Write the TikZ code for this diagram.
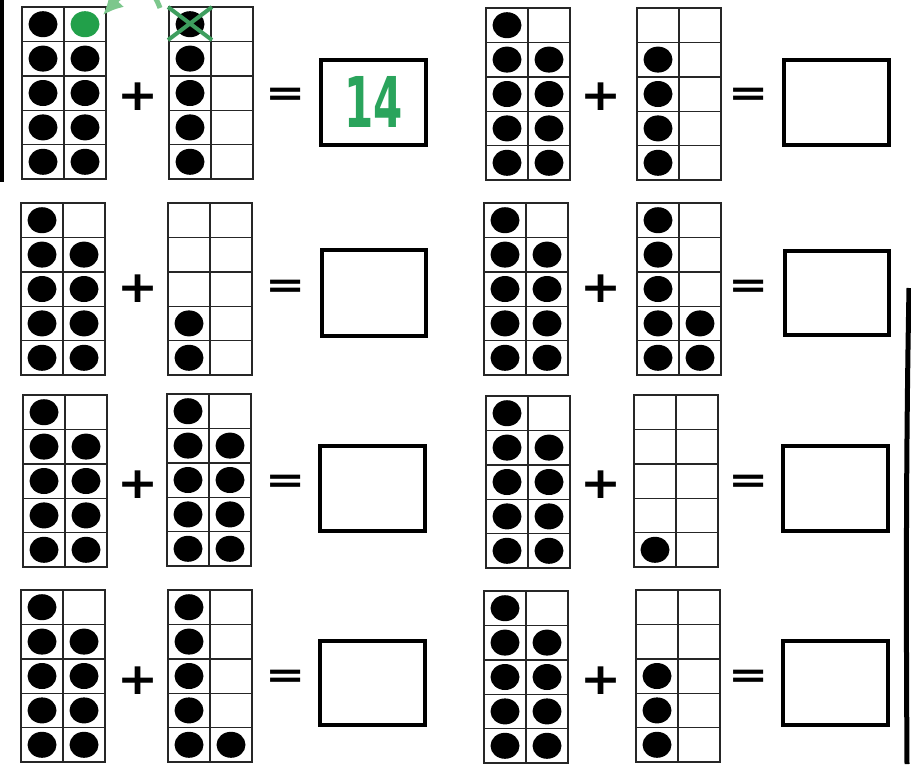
\documentclass[tikz,border=0pt]{standalone}
\usepackage{fontspec}
\setmainfont{DejaVu Sans}
\usetikzlibrary{arrows.meta}
\definecolor{dotgreen}{HTML}{22A04A}
\definecolor{markgreen}{HTML}{3E9E5E}
\definecolor{arrowgreen}{HTML}{7CC78C}
\definecolor{numgreen}{HTML}{2AA45C}
\tikzset{
  cellline/.style={line width=1.4pt, draw=black!85},
  frameline/.style={line width=2.2pt, draw=black!85},
  answerbox/.style={draw=black, line width=3.5pt, fill=white},
  opsym/.style={inner sep=0pt, font=\fontsize{49}{49}\selectfont\bfseries, yscale=0.9},
  eqsym/.style={inner sep=0pt, font=\fontsize{48}{48}\selectfont\bfseries, yscale=0.75},
  blackdot/.style={fill=black},
}
% name, x, y, dot list
\newcommand\tframe[4]{%
  \edef\mydotlist{#4}%
  \begin{scope}[shift={(#2,#3)}]
    \coordinate (#1) at (0,0);
    \foreach \dr/\dc in \mydotlist {
      \fill[blackdot] ({\dc*42-21},{\dr*34.4-17.2}) ellipse [x radius=14.5pt, y radius=13pt];
    }
    \foreach \i in {1,...,4} \draw[cellline] (0,{\i*34.4}) -- (84,{\i*34.4});
    \draw[cellline] (42,0) -- (42,172);
    \draw[frameline] (0,0) rectangle (84,172);
  \end{scope}}
\begin{document}
\begin{tikzpicture}[x=1pt,y=-1pt]
\useasboundingbox (0,0) rectangle (911,764);
\fill[white] (0,0) rectangle (911,764);
\def\nine{1/1,2/1,2/2,3/1,3/2,4/1,4/2,5/1,5/2}
% edges of the sheet
\draw[line width=4pt] (1.5,0) -- (1.5,182);
\draw[line width=5pt] (909,288) .. controls (906,450) and (906,600) .. (907,764);
% row 1 left
\tframe{fa}{22}{7}{\nine}
\fill[dotgreen] (85,24.2) ellipse [x radius=14.5pt, y radius=13pt];
\coordinate (gd) at (103,15);
\tframe{fb}{169}{7}{1/1,2/1,3/1,4/1,5/1}
\draw[markgreen, line width=4pt] (168,7) -- (212,40) (212,7) -- (168,40);
\coordinate (xs) at (160,8);
\draw[arrowgreen, line width=5pt, -{Latex[length=20pt,width=20pt,fill=arrowgreen]}] (xs) .. controls (148,-25) and (128,-12) .. (gd);
\node[opsym] (p1) at (138,97) {+};
\node[eqsym] (e1) at (286,97) {=};
\node[answerbox, minimum width=105pt, minimum height=85pt, anchor=north west] (b1) at (319,58) {};
\node[text=numgreen, font=\fontsize{70}{70}\selectfont\bfseries, xscale=0.6, inner sep=0pt] (n14) at (b1.center) {14};
% row 1 right
\tframe{fc}{486}{8}{\nine}
\tframe{fd}{637}{8}{2/1,3/1,4/1,5/1}
\node[opsym] (p2) at (601,97) {+};
\node[eqsym] (e2) at (749,97) {=};
\node[answerbox, minimum width=105pt, minimum height=85pt, anchor=north west] (b2) at (782,58) {};
% row 2 left
\tframe{fe}{21}{203}{\nine}
\tframe{ff}{168}{203}{4/1,5/1}
\node[opsym] (p3) at (138,289) {+};
\node[eqsym] (e3) at (286,289) {=};
\node[answerbox, minimum width=104pt, minimum height=86pt, anchor=north west] (b3) at (320,248) {};
% row 2 right
\tframe{fg}{484}{203}{\nine}
\tframe{fh}{637}{203}{1/1,2/1,3/1,4/1,4/2,5/1,5/2}
\node[opsym] (p4) at (601,289) {+};
\node[eqsym] (e4) at (749,289) {=};
\node[answerbox, minimum width=104pt, minimum height=84pt, anchor=north west] (b4) at (783,249) {};
% row 3 left
\tframe{fi}{23}{395}{\nine}
\tframe{fj}{167}{394}{\nine}
\node[opsym] (p5) at (138,485) {+};
\node[eqsym] (e5) at (286,484) {=};
\node[answerbox, minimum width=105pt, minimum height=85pt, anchor=north west] (b5) at (318,444) {};
% row 3 right
\tframe{fk}{486}{396}{\nine}
\tframe{fl}{634}{395}{5/1}
\node[opsym] (p6) at (601,485) {+};
\node[eqsym] (e6) at (749,484) {=};
\node[answerbox, minimum width=105pt, minimum height=85pt, anchor=north west] (b6) at (781,444) {};
% row 4 left
\tframe{fm}{21}{590}{\nine}
\tframe{fn}{168}{590}{1/1,2/1,3/1,4/1,5/1,5/2}
\node[opsym] (p7) at (138,681) {+};
\node[eqsym] (e7) at (286,679) {=};
\node[answerbox, minimum width=105pt, minimum height=84pt, anchor=north west] (b7) at (318,639) {};
% row 4 right
\tframe{fo}{484}{591}{\nine}
\tframe{fp}{636}{590}{3/1,4/1,5/1}
\node[opsym] (p8) at (601,681) {+};
\node[eqsym] (e8) at (749,679) {=};
\node[answerbox, minimum width=105pt, minimum height=84pt, anchor=north west] (b8) at (781,639) {};
\end{tikzpicture}
\end{document}
